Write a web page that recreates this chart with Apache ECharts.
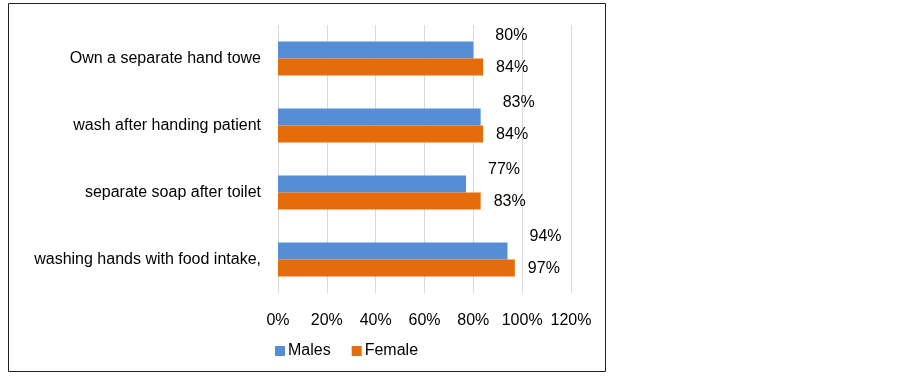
<!DOCTYPE html>
<html>
<head>
<meta charset="utf-8">
<script src="https://cdn.jsdelivr.net/npm/echarts@6/dist/echarts.min.js"></script>
<style>
  html, body { margin: 0; padding: 0; background: #fff; }
  #main { width: 903px; height: 378px; }
</style>
</head>
<body>
<div id="main"></div>
<script>
// data
var categories = ['Own a separate hand towe', 'wash after handing patient', 'separate soap after toilet', 'washing hands with food intake,'];
var males = [80, 83, 77, 94];
var female = [84, 84, 83, 97];
var xTicks = [0, 20, 40, 60, 80, 100, 120];

var chart = echarts.init(document.getElementById('main'));
var font = 'Liberation Sans, Arial, sans-serif';

var option = {
  animation: false,
  textStyle: { fontFamily: font },
  graphic: [{
    type: 'rect',
    shape: { x: 8.5, y: 3.5, width: 597, height: 368 },
    style: { fill: 'none', stroke: '#222', lineWidth: 1 }
  }],
  legend: {
    data: ['Males', 'Female'],
    left: 275,
    top: 343,
    padding: 0,
    itemWidth: 10,
    itemHeight: 10,
    itemGap: 21,
    icon: 'rect',
    textStyle: { fontSize: 16, color: '#000', fontFamily: font, padding: [0, 0, 0, -2] }
  },
  grid: {
    left: 278,
    top: 25,
    width: 293,
    height: 268
  },
  xAxis: {
    type: 'value',
    min: 0,
    max: 120,
    interval: 20,
    axisLine: { show: false },
    axisTick: { show: false },
    splitLine: { lineStyle: { color: '#d9d9d9', width: 1 } },
    axisLabel: {
      margin: 20,
      fontSize: 16,
      color: '#000',
      fontFamily: font,
      formatter: function (v) { return xTicks.indexOf(v) >= 0 ? v + '%' : ''; }
    }
  },
  yAxis: {
    type: 'category',
    data: categories,
    inverse: true,
    axisLine: { show: false },
    axisTick: { show: false },
    axisLabel: { margin: 17, fontSize: 16, color: '#000', fontFamily: font }
  },
  series: [
    {
      name: 'Males',
      type: 'bar',
      data: males,
      barWidth: 17,
      barGap: '0%',
      itemStyle: { color: '#558ed5' },
      label: {
        show: true,
        position: 'right',
        offset: [17, -14],
        fontSize: 16,
        color: '#000',
        fontFamily: font,
        formatter: '{c}%'
      }
    },
    {
      name: 'Female',
      type: 'bar',
      data: female,
      barWidth: 17,
      barGap: '0%',
      itemStyle: { color: '#e46c0a' },
      label: {
        show: true,
        position: 'right',
        offset: [8, 1],
        fontSize: 16,
        color: '#000',
        fontFamily: font,
        formatter: '{c}%'
      }
    }
  ]
};
chart.setOption(option);
</script>
</body>
</html>
